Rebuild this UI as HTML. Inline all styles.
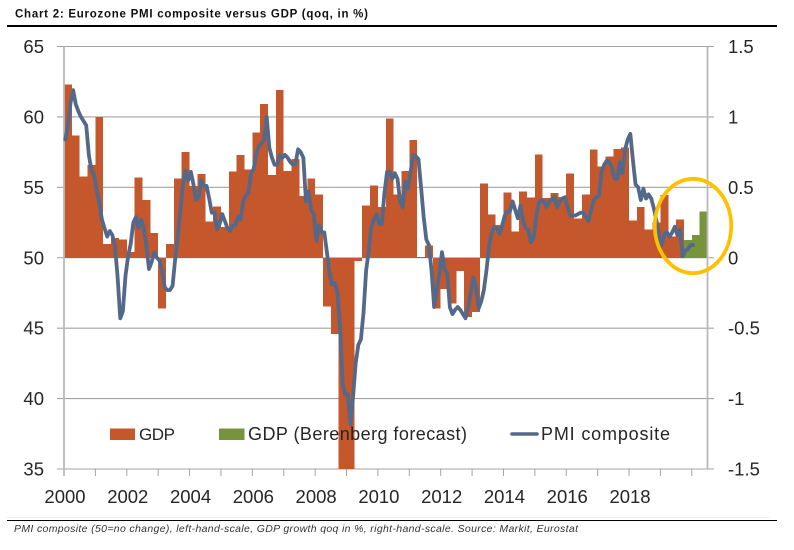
<!DOCTYPE html>
<html>
<head>
<meta charset="utf-8">
<title>Chart 2: Eurozone PMI composite versus GDP</title>
<style>
html,body{margin:0;padding:0;background:#fff;width:794px;height:550px;overflow:hidden}
svg{display:block}
text{font-family:"Liberation Sans",sans-serif;fill:#262626}
</style>
</head>
<body>
<svg id="chart" xmlns="http://www.w3.org/2000/svg" width="794" height="550" viewBox="0 0 794 550">
  <text x="15" y="17.5" font-size="11.5" font-weight="bold" textLength="353" lengthAdjust="spacing" style="fill:#111">Chart 2: Eurozone PMI composite versus GDP (qoq, in %)</text>
  <rect x="7" y="25" width="770" height="2" fill="#000"/>
  <g id="grid"></g>
  <g id="bars"></g>
  <g id="axes"></g>
  <g id="line"></g>
  <ellipse cx="693" cy="226" rx="38.2" ry="47.2" fill="none" stroke="#FFC000" stroke-width="3.8"/>
  <g>
    <rect x="110" y="428.5" width="25" height="11.5" fill="#C4572B"/>
    <text x="139" y="440" font-size="17" textLength="36" lengthAdjust="spacing">GDP</text>
    <rect x="219" y="428.5" width="25.5" height="11.5" fill="#77933C"/>
    <text x="248" y="440" font-size="18" textLength="219" lengthAdjust="spacing">GDP (Berenberg forecast)</text>
    <line x1="512" y1="434" x2="537" y2="434" stroke="#54698A" stroke-width="3.6" stroke-linecap="round"/>
    <text x="541" y="440" font-size="18" textLength="129" lengthAdjust="spacing">PMI composite</text>
  </g>
  <rect x="7" y="517" width="762" height="1" fill="#eeeeee"/>
  <rect x="7" y="520" width="770" height="1" fill="#000"/>
  <text x="14" y="532" font-size="10.5" font-style="italic" textLength="564" lengthAdjust="spacing" style="fill:#333">PMI composite (50=no change), left-hand-scale, GDP growth qoq in %, right-hand-scale. Source: Markit, Eurostat</text>
</svg>
<script>
const leftTicks = [65, 60, 55, 50, 45, 40, 35];
const rightTicks = ['1.5', '1', '0.5', '0', '-0.5', '-1', '-1.5'];
const yearLabels = ['2000', '2002', '2004', '2006', '2008', '2010', '2012', '2014', '2016', '2018'];
const gdpActual = [
  1.23, 0.867, 0.576, 0.66, 1.0, 0.097, 0.14, 0.13, 0.04, 0.57,
  0.41, 0.175, -0.36, 0.097, 0.564, 0.75, 0.51, 0.596, 0.256, 0.363,
  0.22, 0.614, 0.73, 0.626, 0.89, 1.093, 0.586, 1.19, 0.616, 0.70,
  0.44, 0.564, 0.45, -0.346, -0.54, -1.75, -2.9, -0.024, 0.37, 0.512,
  0.36, 0.989, 0.448, 0.616, 0.837, 0.007, 0.088, -0.36, -0.223, -0.325,
  -0.095, -0.42, -0.384, 0.526, 0.308, 0.232, 0.465, 0.187, 0.472, 0.427,
  0.733, 0.424, 0.458, 0.43, 0.6, 0.28, 0.45, 0.768, 0.647, 0.718,
  0.773, 0.782, 0.265, 0.36, 0.2, 0.25, 0.446, 0.15, 0.27
];
const gdpForecast = [0.125, 0.16, 0.33];
const pmiComposite = [
  58.4, 59.4, 61.0, 61.9, 60.9, 60.4, 60.0, 59.7, 59.4, 57.3,
  56.2, 55.9, 54.8, 53.9, 52.7, 52.1, 51.5, 51.9, 51.6, 50.8,
  48.6, 45.7, 46.2, 48.7, 50.1, 51.0, 52.5, 52.9, 52.1, 52.7,
  52.1, 50.8, 49.2, 49.7, 50.4, 50.0, 49.8, 49.1, 47.9, 47.7,
  47.7, 48.0, 49.9, 51.5, 53.4, 55.3, 56.2, 55.5, 56.1, 55.2,
  54.1, 54.3, 55.5, 55.1, 55.1, 54.2, 53.2, 53.2, 52.0, 52.4,
  53.1, 52.6, 52.1, 51.9, 52.3, 52.3, 52.9, 52.7, 54.0, 54.4,
  54.6, 56.0, 56.3, 57.4, 57.9, 58.1, 58.4, 60.0, 57.8, 57.1,
  56.6, 56.6, 57.3, 57.1, 57.3, 57.1, 56.8, 56.6, 56.7, 57.7,
  57.5, 57.1, 54.0, 54.7, 53.4, 53.1, 51.2, 52.3, 51.8, 51.8,
  50.4, 48.9, 48.1, 48.2, 47.6, 45.2, 41.1, 40.3, 40.3, 38.2,
  40.1, 42.5, 43.8, 44.2, 46.1, 49.1, 50.5, 52.2, 52.7, 53.1,
  52.4, 52.4, 54.6, 56.1, 56.1, 55.6, 56.0, 55.6, 54.0, 53.6,
  55.4, 54.9, 56.1, 57.3, 57.2, 57.0, 55.0, 52.9, 51.3, 50.9,
  49.1, 46.5, 47.7, 48.9, 50.4, 49.2, 48.9, 46.5, 46.0, 46.3,
  46.5, 46.3, 46.0, 45.7, 46.5, 47.5, 48.6, 47.9, 46.4, 46.9,
  47.7, 49.1, 50.8, 51.8, 52.2, 52.1, 51.7, 52.3, 53.0, 53.3,
  53.3, 54.0, 53.4, 52.8, 53.7, 52.6, 52.1, 52.0, 51.1, 51.4,
  52.9, 53.9, 54.1, 54.0, 53.6, 54.0, 54.1, 54.3, 53.6, 54.0,
  54.2, 54.3, 53.6, 53.0, 53.0, 53.0, 53.1, 53.2, 53.2, 52.9,
  52.6, 53.4, 54.1, 54.3, 54.4, 56.1, 56.6, 56.9, 56.8, 56.4,
  55.6, 55.6, 56.8, 56.0, 57.7, 58.4, 58.8, 56.9, 55.2, 55.0,
  54.1, 54.9, 54.2, 54.5, 54.2, 53.5, 52.6, 51.6, 50.9, 51.7,
  51.8, 51.5, 51.8, 52.2, 51.6, 52.0, 50.1, 50.5, 50.6, 50.9,
  50.9
];

const SVG_NS = 'http://www.w3.org/2000/svg';
const plotLeft = 64, plotRight = 707.5, plotTop = 46.5, plotBottom = 469;
const totalQuarters = 82;
const quarterWidth = (plotRight - plotLeft) / totalQuarters;
const monthWidth = quarterWidth / 3;
function xQuarter(q) { return plotLeft + q * quarterWidth; }
function xMonth(m) { return plotLeft + (m + 0.5) * monthWidth; }
function yLeft(v) { return plotBottom - (v - 35) / 30 * (plotBottom - plotTop); }
function yRight(v) { return plotBottom - (v + 1.5) / 3 * (plotBottom - plotTop); }
function make(tag, attrs, parent) {
  const el = document.createElementNS(SVG_NS, tag);
  for (const k in attrs) el.setAttribute(k, attrs[k]);
  parent.appendChild(el);
  return el;
}
const grid = document.getElementById('grid');
const axes = document.getElementById('axes');
const bars = document.getElementById('bars');
const lineGroup = document.getElementById('line');

leftTicks.forEach(function (v) {
  const y = yLeft(v);
  const g = make('line', { x1: 57, x2: 714, y1: y, y2: y, stroke: '#a3a3a3', 'stroke-width': 1.1 }, grid);
  
  
  const t = make('text', { x: 44, y: y + 6.5, 'font-size': 18.5, 'text-anchor': 'end' }, axes);
  t.textContent = v;
  
  
});
rightTicks.forEach(function (v) {
  const y = yRight(Number(v));
  const t = make('text', { x: 728, y: y + 6.5, 'font-size': 18.5 }, axes);
  t.textContent = v;
  
  
});

function drawBar(value, q, color, name) {
  const y0 = yRight(0);
  const y1 = Math.max(plotTop, Math.min(plotBottom, yRight(value)));
  const b = make('rect', {
    x: xQuarter(q), width: quarterWidth,
    y: Math.min(y0, y1), height: Math.abs(y1 - y0),
    fill: color, 'shape-rendering': 'crispEdges'
  }, bars);
  
  
}
gdpActual.forEach(function (v, i) { drawBar(v, i, '#C4572B', 'gdp-bar'); });
gdpForecast.forEach(function (v, i) { drawBar(v, gdpActual.length + i, '#77933C', 'gdp-forecast-bar'); });

const leftAxis = make('line', { x1: plotLeft, x2: plotLeft, y1: plotTop, y2: plotBottom + 7, stroke: '#b9b9b9', 'stroke-width': 1.8 }, axes);


const rightAxis = make('line', { x1: plotRight, x2: plotRight, y1: plotTop, y2: plotBottom, stroke: '#b9b9b9', 'stroke-width': 1.8 }, axes);



for (let q = 4; q < totalQuarters; q += 4) {
  const tick = make('line', { x1: xQuarter(q), x2: xQuarter(q), y1: plotBottom, y2: plotBottom + 7, stroke: '#a3a3a3', 'stroke-width': 1 }, axes);
  
  
}
yearLabels.forEach(function (label, i) {
  const t = make('text', { x: xQuarter(i * 8) + 1, y: 503, 'font-size': 18.5, 'text-anchor': 'middle' }, axes);
  t.textContent = label;
  
  
});

const pmiPoints = pmiComposite.map(function (v, m) {
  return xMonth(m).toFixed(2) + ',' + yLeft(v).toFixed(2);
}).join(' ');
const pmiLine = make('polyline', {
  points: pmiPoints, fill: 'none', stroke: '#54698A', 'stroke-width': 3.8,
  'stroke-linejoin': 'round', 'stroke-linecap': 'round'
}, lineGroup);


</script>
</body>
</html>
